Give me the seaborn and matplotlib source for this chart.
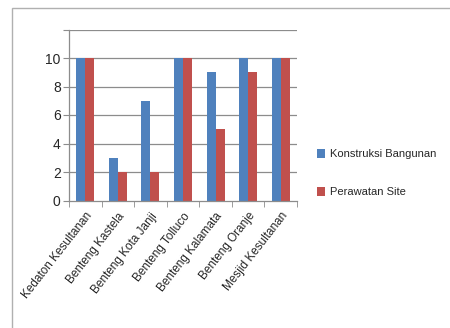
import matplotlib
matplotlib.use("Agg")
import matplotlib.pyplot as plt
import numpy as np
import pandas as pd
import seaborn as sns
from matplotlib.patches import Rectangle

sites = ['Kedaton Kesultanan', 'Benteng Kastela', 'Benteng Kota Janji',
         'Benteng Tolluco', 'Benteng Kalamata', 'Benteng Oranje',
         'Mesjid Kesultanan']
konstruksi = [10, 3, 7, 10, 9, 10, 10]
perawatan = [10, 2, 2, 10, 5, 9, 10]
series = ['Konstruksi Bangunan', 'Perawatan Site']
colors = ['#4F81BD', '#C0504D']
yticks = [0, 2, 4, 6, 8, 10]

df = pd.DataFrame({'site': sites * 2,
                   'val': konstruksi + perawatan,
                   'series': [series[0]] * len(sites) + [series[1]] * len(sites)})

sns.set_style('white')
plt.rcParams['font.family'] = ['Liberation Sans', 'DejaVu Sans']

fig = plt.figure(figsize=(4.5, 3.28), dpi=100)
# outer chart frame
fig.patches.append(Rectangle((12 / 450, -0.05), 1.0, 1 - 8 / 328 + 0.05,
                             transform=fig.transFigure, fill=False,
                             edgecolor='#b0b0b0', lw=1.0))

ax = fig.add_axes([69 / 450, 1 - 200.5 / 328, 228 / 450, 171 / 328])
sns.barplot(data=df, x='site', y='val', hue='series', palette=colors,
            width=0.55, saturation=1, linewidth=0, ax=ax, legend=True)

ax.set_ylim(0, 12)
ax.set_yticks(range(0, 13, 2))
ax.set_yticklabels([str(t) for t in yticks] + [''])
for y in range(2, 13, 2):
    ax.axhline(y, color='#8c8c8c', lw=0.9, zorder=0)
ax.set_axisbelow(True)

for s in ['top', 'right']:
    ax.spines[s].set_visible(False)
for s in ['left', 'bottom']:
    ax.spines[s].set_color('#8c8c8c')
    ax.spines[s].set_linewidth(0.9)

ax.set_xlabel('')
ax.set_ylabel('')
ax.set_xlim(-0.5, len(sites) - 0.5)
ax.set_xticks(np.arange(len(sites)))
ax.set_xticklabels(sites, rotation=52, ha='right', rotation_mode='anchor',
                   fontsize=8.5)
ax.tick_params(axis='x', length=0, pad=7)
ax.set_xticks(np.arange(len(sites) + 1) - 0.5, minor=True)
ax.tick_params(axis='x', which='minor', length=4, color='#8c8c8c', direction='out', bottom=True)
ax.tick_params(axis='y', length=4, color='#8c8c8c', direction='out', left=True,
               labelsize=10, pad=2)

leg = ax.legend(loc='center left', bbox_to_anchor=(1 + 20 / 228, 0.16), frameon=False,
                fontsize=8, handlelength=0.75, handleheight=0.85,
                labelspacing=2.5, handletextpad=0.4, borderpad=0,
                borderaxespad=0)

fig.savefig('out.png', dpi=100, facecolor='white')
